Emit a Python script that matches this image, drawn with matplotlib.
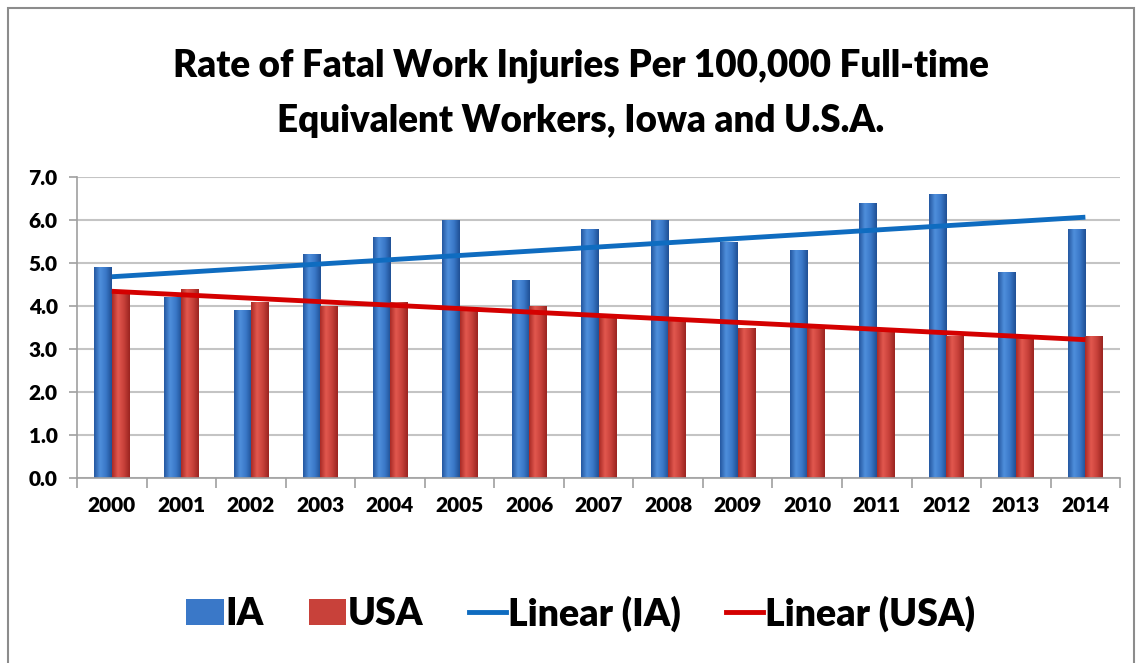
import numpy as np
import matplotlib
matplotlib.use('Agg')
import matplotlib.pyplot as plt
from matplotlib.patches import Rectangle, Patch
from matplotlib.lines import Line2D
from matplotlib.colors import LinearSegmentedColormap

# Values
years = ['2000', '2001', '2002', '2003', '2004', '2005', '2006', '2007',
         '2008', '2009', '2010', '2011', '2012', '2013', '2014']
ia_rate = [4.9, 4.2, 3.9, 5.2, 5.6, 6.0, 4.6, 5.8, 6.0, 5.5, 5.3, 6.4, 6.6, 4.8, 5.8]
usa_rate = [4.3, 4.4, 4.1, 4.0, 4.1, 3.9, 4.0, 3.8, 3.7, 3.5, 3.5, 3.5, 3.3, 3.3, 3.3]
y_ticks = [0, 1, 2, 3, 4, 5, 6, 7]
title = 'Rate of Fatal Work Injuries Per 100,000 Full-time\nEquivalent Workers, Iowa and U.S.A.'

plt.rcParams['font.family'] = ['Lato', 'DejaVu Sans']

fig = plt.figure(figsize=(11.43, 6.63), dpi=100)
ax = fig.add_axes([0.0674, 0.279, 0.9126, 0.454])

x = np.arange(len(years))
w = 0.25

# cylinder-ish shading for the bars
blue_cm = LinearSegmentedColormap.from_list('b', ['#2457a0', '#4f8fdc', '#3a78c8', '#1f4f94'])
red_cm = LinearSegmentedColormap.from_list('r', ['#a82a25', '#e2584f', '#c8413a', '#9a2420'])
grad = np.linspace(0, 1, 64).reshape(1, -1)

def shade(bars, cmap):
    for b in bars:
        bx, by = b.get_x(), b.get_y()
        bw, bh = b.get_width(), b.get_height()
        im = ax.imshow(grad, cmap=cmap, aspect='auto', extent=(bx, bx + bw, by, by + bh),
                       zorder=2, interpolation='bicubic')
        im.set_clip_path(b)

bars_ia = ax.bar(x - w / 2, ia_rate, w, color='#3a78c8', zorder=2, linewidth=0)
bars_usa = ax.bar(x + w / 2, usa_rate, w, color='#c8413a', zorder=2, linewidth=0)
shade(bars_ia, blue_cm)
shade(bars_usa, red_cm)

# linear trend lines like Excel
fit_ia = np.polyfit(x, ia_rate, 1)
fit_usa = np.polyfit(x, usa_rate, 1)
ax.plot(x, np.polyval(fit_ia, x), color='#0f6cc0', lw=3.5, zorder=4, solid_capstyle='butt')
ax.plot(x, np.polyval(fit_usa, x), color='#d40000', lw=3.5, zorder=4, solid_capstyle='butt')

ax.set_xlim(-0.5, len(years) - 0.5)
ax.set_ylim(0, 7)
ax.set_yticks(y_ticks)
ax.set_yticklabels([f'{v:.1f}' for v in y_ticks], fontsize=15, fontweight='heavy')
ax.set_xticks(x)
ax.set_xticklabels(years, fontsize=15, fontweight='heavy')
ax.tick_params(axis='x', length=0, pad=13)
ax.set_xticks(np.arange(-0.5, len(years), 1), minor=True)
ax.tick_params(axis='x', which='minor', length=7, color='#a0a0a0', width=1.2)
ax.tick_params(axis='y', length=6, color='#a0a0a0', width=1.2, pad=8)
ax.grid(axis='y', color='#c4c4c4', lw=1.5, zorder=0)
ax.set_axisbelow(True)
for s in ['top', 'right']:
    ax.spines[s].set_visible(False)
ax.spines['left'].set_color('#a0a0a0')
ax.spines['bottom'].set_color('#a0a0a0')
ax.spines['left'].set_linewidth(1.2)
ax.spines['bottom'].set_linewidth(1.2)

fig.text(0.508, 0.859, title, ha='center', va='center', fontsize=26.5,
         fontweight='heavy', linespacing=1.75)

handles = [Patch(facecolor='#3a78c8'), Patch(facecolor='#c8413a'),
           Line2D([], [], color='#0f6cc0', lw=3.5), Line2D([], [], color='#d40000', lw=3.5)]
labels = ['IA', 'USA', 'Linear (IA)', 'Linear (USA)']
fig.legend(handles, labels, loc='center', bbox_to_anchor=(0.508, 0.075), ncol=4,
           frameon=False, prop={'size': 27, 'weight': 'heavy'},
           handlelength=1.0, handleheight=0.7, handletextpad=0.05, columnspacing=1.2)

# grey frame around the whole chart
fig.patches.append(Rectangle((0.007, -0.02), 0.985, 1.008, transform=fig.transFigure,
                             fill=False, edgecolor='#8c8c8c', lw=1.5))

fig.savefig('out.png', dpi=100)
